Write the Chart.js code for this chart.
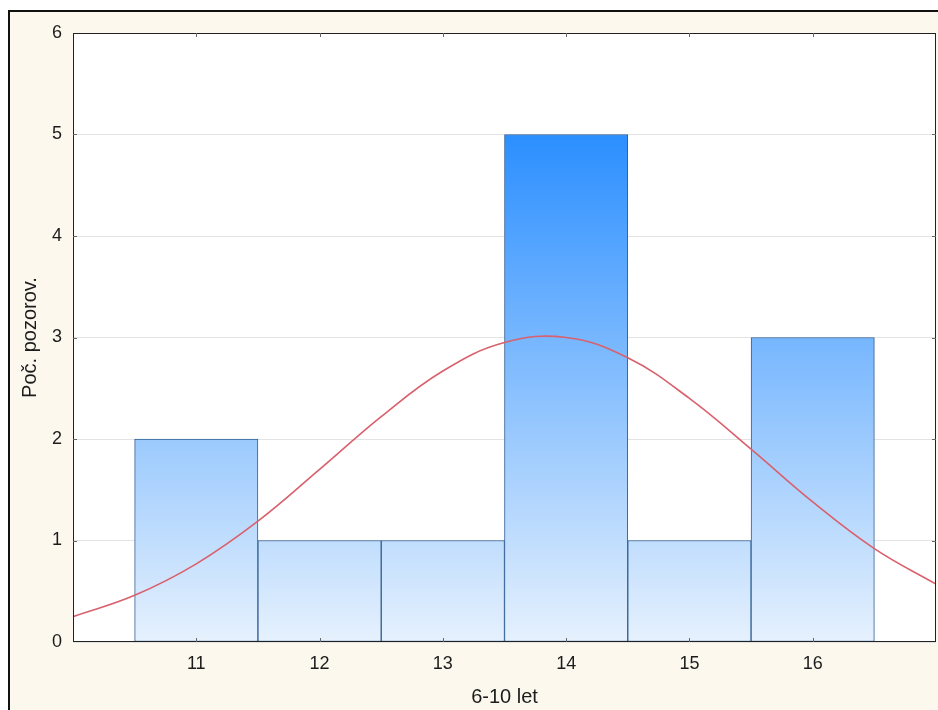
<!DOCTYPE html>
<html>
<head>
<meta charset="utf-8">
<title>Histogram 6-10 let</title>
<script src="https://cdn.jsdelivr.net/npm/chart.js@4.4.1/dist/chart.umd.min.js"></script>
<style>
    html, body { margin: 0; padding: 0; background: #ffffff; }
    #wrap { width: 938px; height: 710px; }
</style>
</head>
<body>
<div id="wrap"><canvas id="chart" width="938" height="710"></canvas></div>
<script>
// histogram data
const categories = [11, 12, 13, 14, 15, 16];
const counts = [2, 1, 1, 5, 1, 3];

// fitted normal curve
const curveX = [10, 10.5, 11, 11.5, 12, 12.5, 13, 13.5, 14, 14.5, 15, 15.5, 16, 16.5, 17];
const curveY = [0.25, 0.46, 0.77, 1.19, 1.70, 2.22, 2.67, 2.95, 3.0, 2.80, 2.40, 1.90, 1.38, 0.92, 0.57];

const xTicks = [11, 12, 13, 14, 15, 16];
const yTicks = [0, 1, 2, 3, 4, 5, 6];

const FONT = 'Liberation Sans, Arial, sans-serif';
const TEXT = '#1c1c1c';

/**
 * Background, outer frame, plot box and inward tick marks
 */
const framePlugin = {
    id: 'frame',
    beforeDraw(chart) {
        const c = chart.ctx;
        const a = chart.chartArea;
        c.save();
        c.fillStyle = '#fdf8ee';
        c.fillRect(9, 11, chart.width, chart.height);
        c.strokeStyle = '#111';
        c.lineWidth = 2;
        c.beginPath();
        c.moveTo(9, chart.height + 5);
        c.lineTo(9, 11);
        c.lineTo(chart.width + 5, 11);
        c.stroke();
        c.fillStyle = '#ffffff';
        c.fillRect(a.left, a.top, a.right - a.left, a.bottom - a.top);
        c.restore();
    },
    afterDraw(chart) {
        const c = chart.ctx;
        const a = chart.chartArea;
        const x = chart.scales.x;
        const y = chart.scales.y;
        c.save();
        c.strokeStyle = '#222';
        c.lineWidth = 1;
        c.strokeRect(a.left + 0.5, a.top + 0.5, a.right - a.left - 1, a.bottom - a.top - 1);
        c.strokeStyle = '#666';
        c.beginPath();
        xTicks.forEach(v => {
            const px = Math.round(x.getPixelForValue(v)) + 0.5;
            c.moveTo(px, a.bottom); c.lineTo(px, a.bottom - 4);
            c.moveTo(px, a.top); c.lineTo(px, a.top + 4);
        });
        yTicks.slice(1, -1).forEach(v => {
            const py = Math.round(y.getPixelForValue(v)) + 0.5;
            c.moveTo(a.left, py); c.lineTo(a.left + 4, py);
            c.moveTo(a.right, py); c.lineTo(a.right - 4, py);
        });
        c.stroke();
        c.restore();
    }
};

function barGradient(context) {
    const chart = context.chart;
    if (!chart.chartArea) return '#7ab8fc';
    const y = chart.scales.y;
    const g = chart.ctx.createLinearGradient(0, y.getPixelForValue(5), 0, y.getPixelForValue(0));
    g.addColorStop(0, '#2b8fff');
    g.addColorStop(1, '#e6f1fd');
    return g;
}

new Chart(document.getElementById('chart'), {
    type: 'bar',
    plugins: [framePlugin],
    data: {
        datasets: [{
            type: 'line',
            data: curveX.map((v, i) => ({ x: v, y: curveY[i] })),
            borderColor: '#d9606c',
            borderWidth: 1.6,
            pointRadius: 0,
            tension: 0.4,
            fill: false,
            order: 0
        }, {
            type: 'bar',
            data: categories.map((v, i) => ({ x: v, y: counts[i] })),
            backgroundColor: barGradient,
            borderColor: '#2f5f95',
            borderWidth: 1,
            borderSkipped: false,
            barPercentage: 1,
            categoryPercentage: 1,
            grouped: false,
            order: 1
        }]
    },
    options: {
        responsive: false,
        animation: false,
        layout: { padding: { top: 33, right: 2, left: 0, bottom: 0 } },
        plugins: {
            legend: { display: false },
            tooltip: { enabled: false }
        },
        scales: {
            x: {
                type: 'linear',
                min: 10,
                max: 17,
                offset: false,
                afterBuildTicks: s => { s.ticks = xTicks.map(v => ({ value: v })); },
                afterFit: s => { s.height = 68; },
                grid: { display: false, drawTicks: false },
                border: { display: false },
                ticks: { color: TEXT, font: { family: FONT, size: 18 }, padding: 11, maxRotation: 0 },
                title: {
                    display: true,
                    text: '6-10 let',
                    color: TEXT,
                    font: { family: FONT, size: 20 },
                    padding: { top: 0, bottom: 1 }
                }
            },
            y: {
                min: 0,
                max: 6,
                afterBuildTicks: s => { s.ticks = yTicks.map(v => ({ value: v })); },
                afterFit: s => { s.width = 73; },
                grid: { color: '#e3e3e3', drawTicks: false },
                border: { display: false },
                ticks: { color: TEXT, font: { family: FONT, size: 18 }, padding: 11 },
                title: {
                    display: true,
                    text: 'Poč. pozorov.',
                    color: TEXT,
                    font: { family: FONT, size: 20 },
                    padding: { top: 18, bottom: 0 }
                }
            }
        }
    }
});
</script>
</body>
</html>
